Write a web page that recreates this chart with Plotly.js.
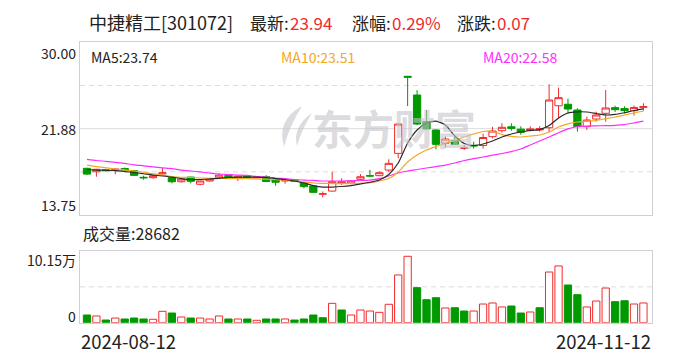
<!DOCTYPE html>
<html><head><meta charset="utf-8">
<script src="https://cdn.plot.ly/plotly-3.0.1.min.js"></script>
<style>html,body{margin:0;padding:0;background:#fff;}#chart{width:688px;height:360px;}</style>
</head><body><div id="chart"></div>
<script>
const dates = ['2024-08-12','2024-08-13','2024-08-14','2024-08-15','2024-08-16','2024-08-19','2024-08-20','2024-08-21','2024-08-22','2024-08-23','2024-08-26','2024-08-27','2024-08-28','2024-08-29','2024-08-30',
'2024-09-02','2024-09-03','2024-09-04','2024-09-05','2024-09-06','2024-09-09','2024-09-10','2024-09-11','2024-09-12','2024-09-13','2024-09-18','2024-09-19','2024-09-20','2024-09-23','2024-09-24','2024-09-25','2024-09-26','2024-09-27','2024-09-30',
'2024-10-08','2024-10-09','2024-10-10','2024-10-11','2024-10-14','2024-10-15','2024-10-16','2024-10-17','2024-10-18','2024-10-21','2024-10-22','2024-10-23','2024-10-24','2024-10-25','2024-10-28','2024-10-29','2024-10-30','2024-10-31',
'2024-11-01','2024-11-04','2024-11-05','2024-11-06','2024-11-07','2024-11-08','2024-11-11','2024-11-12'];

const openP = [18.14,17.82,18.00,17.97,18.12,17.92,17.30,17.26,17.62,17.26,
16.88,17.32,16.64,16.95,17.25,17.50,17.20,17.42,17.25,17.35,
17.10,16.95,17.05,16.80,16.48,15.72,16.00,16.73,16.73,17.11,
17.45,17.45,17.98,19.55,26.80,25.04,22.53,21.75,20.50,20.75,
20.03,20.30,20.29,21.12,21.68,22.05,21.83,21.70,21.75,21.96,
24.03,24.17,23.63,22.06,22.78,23.32,23.85,23.76,23.56,23.88];
const highP = [18.20,18.08,18.05,18.12,18.22,17.97,17.45,17.46,18.17,17.30,
17.15,17.35,17.00,17.15,17.67,17.55,17.45,17.48,17.40,17.50,
17.12,17.12,17.10,16.85,16.50,15.96,17.82,17.20,17.00,17.60,
18.00,17.85,18.99,22.35,26.83,25.50,23.63,21.80,21.12,21.12,
20.33,20.65,21.40,22.05,22.38,22.38,22.10,22.10,22.10,26.05,
25.73,24.70,23.80,23.00,23.47,25.51,24.03,23.98,24.05,24.26];
const lowP = [17.51,17.35,17.85,17.58,17.95,17.44,17.07,17.17,17.55,16.73,
16.80,16.73,16.54,16.90,17.20,17.15,16.95,17.20,17.20,16.85,
16.50,16.70,16.85,16.25,15.85,15.40,15.95,16.57,16.65,16.95,
17.35,17.40,17.82,19.08,24.00,22.20,21.80,19.93,20.10,20.35,
19.87,20.00,20.00,20.97,21.50,21.68,21.30,21.60,21.60,21.53,
22.90,23.30,21.60,21.75,22.53,22.53,23.45,23.30,23.10,23.57];
const closeP = [17.60,18.05,17.92,18.06,17.98,17.48,17.25,17.44,17.72,16.88,
17.13,16.92,16.95,17.13,17.50,17.20,17.40,17.25,17.35,16.90,
16.83,17.00,16.90,16.42,15.88,15.74,16.88,16.88,16.95,17.35,
17.42,17.73,18.61,22.31,26.72,22.31,21.85,20.40,20.90,20.40,
20.05,20.25,21.04,21.65,22.00,21.90,21.53,21.85,21.88,24.57,
24.79,23.72,22.06,22.69,23.16,23.82,23.66,23.57,23.87,23.94];

// volume in 万
const volume = [1.12,0.98,0.39,0.68,0.54,0.68,0.54,0.50,1.66,1.41,
0.83,0.68,0.68,0.54,0.98,0.54,0.54,0.54,0.35,0.54,
0.54,0.54,0.39,0.54,1.12,0.73,2.82,1.85,1.12,1.85,
1.70,1.51,2.68,6.95,9.67,5.10,3.35,3.64,2.14,2.18,
1.70,1.70,2.72,2.87,2.29,2.43,1.41,1.56,2.18,7.38,
8.26,5.49,4.08,2.29,3.16,5.05,3.06,3.20,2.72,2.87];
// 1 = red (up) volume bar, 0 = green
const volUp = [0,1,0,1,0,0,0,1,1,0,
1,0,1,1,1,0,1,0,1,0,
0,1,0,0,0,0,1,0,1,1,
1,1,1,1,1,0,0,0,1,0,
0,1,1,1,1,0,0,1,0,1,
1,0,0,1,1,1,0,0,1,1];

const ma5 = [18.03,17.98,17.96,17.92,17.84,17.75,17.63,17.51,17.42,17.32,
17.18,17.09,17.09,17.14,17.20,17.28,17.32,17.32,17.32,17.28,
17.18,17.09,16.95,16.76,16.52,16.38,16.38,16.43,16.52,16.67,
16.83,17.04,17.56,18.64,20.52,21.75,22.41,22.59,22.22,21.18,
20.48,20.29,20.43,20.71,21.09,21.37,21.56,21.70,21.79,22.17,
22.88,23.35,23.46,23.44,23.30,23.16,23.21,23.37,23.58,23.74];
const ma10 = [18.45,18.31,18.19,18.08,18.00,17.89,17.77,17.63,17.51,17.37,
17.30,17.28,17.23,17.21,17.20,17.18,17.18,17.16,17.14,17.12,
17.07,17.02,16.95,16.85,16.76,16.73,16.71,16.71,16.71,16.74,
16.78,16.95,17.18,17.80,18.74,19.39,19.87,20.19,20.48,20.76,
21.09,21.37,21.61,21.61,21.32,21.14,21.09,21.18,21.28,21.56,
22.03,22.33,22.50,22.57,22.64,22.81,22.97,23.16,23.35,23.51];
const ma20 = [18.99,18.88,18.80,18.71,18.60,18.47,18.38,18.28,18.19,18.11,
17.98,17.89,17.80,17.70,17.61,17.55,17.51,17.47,17.37,17.32,
17.23,17.17,17.09,17.04,17.00,16.95,16.95,16.95,16.97,17.00,
17.04,17.18,17.42,17.70,17.89,18.03,18.17,18.31,18.45,18.64,
18.88,19.05,19.21,19.38,19.54,19.72,19.96,20.34,20.71,21.09,
21.49,21.86,22.08,22.12,22.14,22.16,22.19,22.26,22.41,22.58];

const priceTicks = ['30.00','21.88','13.75'];
const volTicks = ['10.15万','0'];
const stockName = '中捷精工[301072]';
const latest = '23.94', pctChg = '0.29%', chg = '0.07';
const maLabels = ['MA5:23.74','MA10:23.51','MA20:22.58'];
const volLabel = '成交量:28682';

const RED = '#f02b2b', GREEN = '#009900';
const C_MA5 = '#2a2a2a', C_MA10 = '#f5a623', C_MA20 = '#ff2cff';
const FONT = 'Noto Sans CJK SC, Noto Sans, sans-serif';
const W = 688, H = 360;
const px = x => x / W, py = y => 1 - y / H;
const X0 = 80, X1 = 652;
const xr = [-0.74, 59.91];

const traces = [
  {type:'candlestick', x:dates, open:openP, high:highP, low:lowP, close:closeP,
   xaxis:'x', yaxis:'y',
   increasing:{line:{color:RED,width:1}, fillcolor:'#ffffff'},
   decreasing:{line:{color:GREEN,width:1}, fillcolor:GREEN},
   whiskerwidth:0, hoverinfo:'skip'},
  {type:'scatter', mode:'lines', x:dates, y:ma20, xaxis:'x', yaxis:'y', line:{color:C_MA20,width:1.2,shape:'spline',smoothing:0.6}, hoverinfo:'skip'},
  {type:'scatter', mode:'lines', x:dates, y:ma10, xaxis:'x', yaxis:'y', line:{color:C_MA10,width:1.2,shape:'spline',smoothing:0.6}, hoverinfo:'skip'},
  {type:'scatter', mode:'lines', x:dates, y:ma5, xaxis:'x', yaxis:'y', line:{color:C_MA5,width:1.2,shape:'spline',smoothing:0.6}, hoverinfo:'skip'},
  {type:'bar', x:dates, y:volume, xaxis:'x2', yaxis:'y2',
   marker:{color:volUp.map(u => u ? '#ffffff' : GREEN), line:{color:volUp.map(u => u ? RED : GREEN), width:1}},
   hoverinfo:'skip'}
];

const ann = [];
function A(text, x, y, xanchor, size, color, extra) {
  ann.push(Object.assign({text, x:px(x), y:py(y), xref:'paper', yref:'paper', xanchor, yanchor:'middle',
    showarrow:false, font:{family:FONT, size, color}, borderpad:0}, extra || {}));
}
// title row
A(stockName, 88, 22, 'left', 18, '#222');
A('最新:', 249, 22, 'left', 17, '#222');
A(latest, 289, 22, 'left', 17, RED);
A('涨幅:', 351, 22, 'left', 17, '#222');
A(pctChg, 391, 22, 'left', 17, RED);
A('涨跌:', 456, 22, 'left', 17, '#222');
A(chg, 496, 22, 'left', 17, RED);
// MA legend
A(maLabels[0], 90, 57, 'left', 14, '#222');
A(maLabels[1], 280, 57, 'left', 14, C_MA10);
A(maLabels[2], 482, 57, 'left', 14, C_MA20);
// price labels
A(priceTicks[0], 77, 53, 'right', 14, '#222');
A(priceTicks[1], 77, 129, 'right', 14, '#222');
A(priceTicks[2], 77, 205, 'right', 14, '#222');
// volume
A(volLabel, 82, 233, 'left', 16, '#222');
A(volTicks[0], 77, 260, 'right', 14, '#222');
A(volTicks[1], 77, 316, 'right', 14, '#222');
// dates
A(dates[0], 80, 341, 'left', 18.5, '#222');
A(dates[dates.length-1], 652, 341, 'right', 18.5, '#222');
// watermark
const WM = 'rgba(196,196,204,0.6)';
A('<b>东方财富</b>', 394, 127, 'center', 41, WM);

function path(pts) {
  return pts.map((p, i) => (i === 0 ? 'M ' : (p.length === 4 ? 'Q ' : 'L ')) +
    (p.length === 4 ? px(p[0]) + ',' + py(p[1]) + ' ' + px(p[2]) + ',' + py(p[3]) : px(p[0]) + ',' + py(p[1]))).join(' ') + ' Z';
}

const gridC = '#dcdcdc';
const shapes = [
  {type:'line', xref:'paper', yref:'y', x0:px(X0), x1:px(X1), y0:21.875, y1:21.875, line:{color:gridC,width:1}, layer:'below'},
  {type:'line', xref:'paper', yref:'y', x0:px(X0), x1:px(X1), y0:25.9375, y1:25.9375, line:{color:gridC,width:1,dash:'5px,4px'}, layer:'below'},
  {type:'line', xref:'paper', yref:'y', x0:px(X0), x1:px(X1), y0:17.8125, y1:17.8125, line:{color:gridC,width:1,dash:'5px,4px'}, layer:'below'},
  {type:'line', xref:'paper', yref:'y2', x0:px(X0), x1:px(X1), y0:5.22, y1:5.22, line:{color:gridC,width:1,dash:'5px,4px'}, layer:'below'},
  // watermark logo
  {type:'path', xref:'paper', yref:'paper', layer:'below', fillcolor:WM, line:{width:0},
   path: path([[302,106],[276,120,284,147],[289,127,302,106]])},
  {type:'path', xref:'paper', yref:'paper', layer:'below', fillcolor:WM, line:{width:0},
   path: path([[312,113],[292,127,297,146],[301,131,312,113]])}
];

const axBase = {showgrid:false, zeroline:false, showticklabels:false, ticks:'', showline:true, mirror:true, linecolor:'#cfcfd6', linewidth:1, fixedrange:true};
const layout = {
  width:W, height:H, margin:{l:0,r:0,t:0,b:0}, paper_bgcolor:'#fff', plot_bgcolor:'#fff',
  showlegend:false, boxgap:0.23, boxgroupgap:0, bargap:0.23,
  xaxis: Object.assign({}, axBase, {type:'category', domain:[px(X0), px(X1)], range:xr, anchor:'y', rangeslider:{visible:false}}),
  yaxis: Object.assign({}, axBase, {domain:[py(215), py(42.3)], range:[13.75, 30], anchor:'x'}),
  xaxis2: Object.assign({}, axBase, {type:'category', domain:[px(X0), px(X1)], range:xr, anchor:'y2'}),
  yaxis2: Object.assign({}, axBase, {domain:[py(322.7), py(251)], range:[0, 10.44], anchor:'x2'}),
  annotations: ann, shapes: shapes
};
Plotly.newPlot('chart', traces, layout, {staticPlot:true, displayModeBar:false});
</script></body></html>
